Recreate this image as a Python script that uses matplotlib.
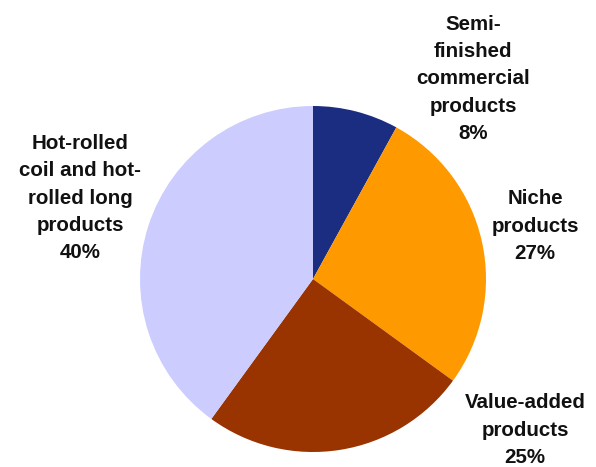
import matplotlib.pyplot as plt

# Product mix shares
categories = ["Semi-\nfinished\ncommercial\nproducts", "Niche\nproducts",
              "Value-added\nproducts", "Hot-rolled\ncoil and hot-\nrolled long\nproducts"]
shares = [8, 27, 25, 40]
colors = ["#1B2D80", "#FF9900", "#993300", "#CCCCFF"]

# label centres in pixels (x, y from top)
label_px = [(473, 79), (535, 226), (525, 430), (80, 198)]

W, H = 596, 467
cx, cy, r = 313, 279, 173

fig = plt.figure(figsize=(W / 100, H / 100), dpi=100)
ax = fig.add_axes([0, 0, 1, 1])
ax.pie(shares, colors=colors, startangle=90, counterclock=False, radius=1,
       wedgeprops=dict(linewidth=0))
ax.set_xlim(-cx / r, (W - cx) / r)
ax.set_ylim(-(H - cy) / r, cy / r)
ax.set_aspect("auto")
ax.axis("off")

for name, val, (px, py) in zip(categories, shares, label_px):
    ax.text((px - cx) / r, (cy - py) / r, f"{name}\n{val}%", ha="center", va="center",
            fontsize=14.8, fontweight="bold", family="Liberation Sans",
            linespacing=1.55, color="#111111")

fig.savefig("out.png", dpi=100)
